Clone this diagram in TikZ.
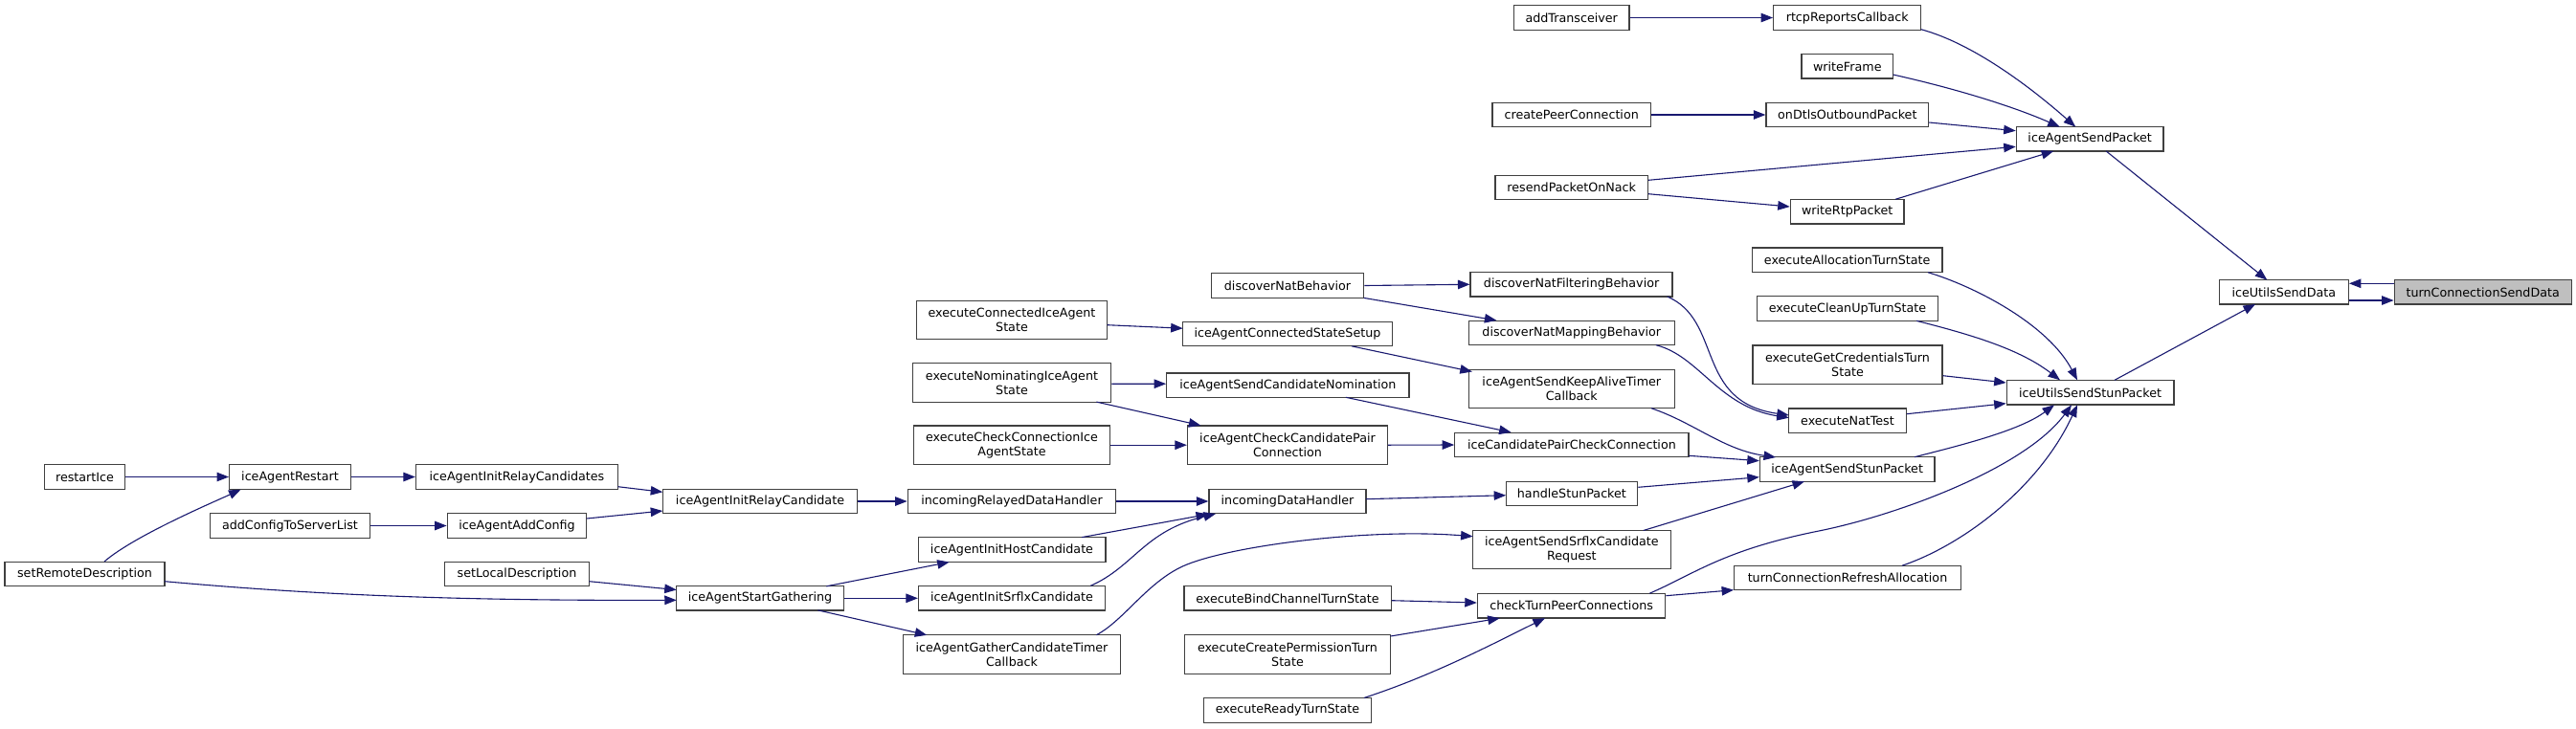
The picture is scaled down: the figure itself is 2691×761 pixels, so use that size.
\documentclass[tikz,border=0pt]{standalone}
\usepackage{fontspec}
\newfontfamily\dvs{DejaVu Sans}
\usetikzlibrary{arrows.meta,calc}
\definecolor{edgeblue}{HTML}{191970}
\definecolor{boxline}{HTML}{404040}
\definecolor{mainfill}{HTML}{BFBFBF}
\tikzset{
  box/.style={draw=boxline, line width=1.3pt, fill=white, inner sep=0pt,
    minimum height=25.5pt, align=center, font=\dvs\fontsize{12.7}{14.7}\selectfont},
  tall/.style={minimum height=40.4pt},
  edge/.style={draw=edgeblue, line width=1.1pt, -{Triangle[length=12.5pt,width=9.5pt]}},
}
\begin{document}
\begin{tikzpicture}[x=1pt,y=-1pt]
\useasboundingbox[fill=white] (0,0) rectangle (2691,761);
% column 1
\node[box,minimum width=83.6pt] (restartIce) at (88.5,498.5) {restartIce};
\node[box,minimum width=167pt] (setRemoteDescription) at (88.5,600) {setRemoteDescription};
% column 2
\node[box,minimum width=126.6pt] (iceAgentRestart) at (303,498.5) {iceAgentRestart};
\node[box,minimum width=166.5pt] (addConfigToServerList) at (303,549.5) {addConfigToServerList};
% column 3
\node[box,minimum width=211pt] (iceAgentInitRelayCandidates) at (540,498.5) {iceAgentInitRelayCandidates};
\node[box,minimum width=145.5pt] (iceAgentAddConfig) at (540,549.5) {iceAgentAddConfig};
\node[box,minimum width=151pt] (setLocalDescription) at (540,600) {setLocalDescription};
% column 4
\node[box,minimum width=203.5pt] (iceAgentInitRelayCandidate) at (794,524) {iceAgentInitRelayCandidate};
\node[box,minimum width=174.5pt] (iceAgentStartGathering) at (794,625.3) {iceAgentStartGathering};
% column 5
\node[box,tall,minimum width=199.3pt] (executeConnectedIceAgentState) at (1057,334.4) {executeConnectedIceAgent\\State};
\node[box,tall,minimum width=207.2pt] (executeNominatingIceAgentState) at (1057,400) {executeNominatingIceAgent\\State};
\node[box,tall,minimum width=205.4pt] (executeCheckConnectionIceAgentState) at (1057,465.2) {executeCheckConnectionIce\\AgentState};
\node[box,minimum width=217.5pt] (incomingRelayedDataHandler) at (1057,524) {incomingRelayedDataHandler};
\node[box,minimum width=195.7pt] (iceAgentInitHostCandidate) at (1057,574.5) {iceAgentInitHostCandidate};
\node[box,minimum width=195pt] (iceAgentInitSrflxCandidate) at (1057,625.3) {iceAgentInitSrflxCandidate};
\node[box,tall,minimum width=226.6pt] (iceAgentGatherCandidateTimerCallback) at (1057,684) {iceAgentGatherCandidateTimer\\Callback};
% column 6
\node[box,minimum width=159.4pt] (discoverNatBehavior) at (1345,298.5) {discoverNatBehavior};
\node[box,minimum width=218.7pt] (iceAgentConnectedStateSetup) at (1345,349) {iceAgentConnectedStateSetup};
\node[box,minimum width=253.3pt] (iceAgentSendCandidateNomination) at (1345.4,402.6) {iceAgentSendCandidateNomination};
\node[box,tall,minimum width=209pt] (iceAgentCheckCandidatePairConnection) at (1345,465.2) {iceAgentCheckCandidatePair\\Connection};
\node[box,minimum width=164pt] (incomingDataHandler) at (1345,524) {incomingDataHandler};
\node[box,minimum width=216.3pt] (executeBindChannelTurnState) at (1345,625.3) {executeBindChannelTurnState};
\node[box,tall,minimum width=215pt] (executeCreatePermissionTurnState) at (1345,684) {executeCreatePermissionTurn\\State};
\node[box,minimum width=174.5pt] (executeReadyTurnState) at (1345,742.4) {executeReadyTurnState};
% column 7
\node[box,minimum width=120.6pt] (addTransceiver) at (1641.7,18.5) {addTransceiver};
\node[box,minimum width=165.4pt] (createPeerConnection) at (1641.7,120) {createPeerConnection};
\node[box,minimum width=159.3pt] (resendPacketOnNack) at (1641.7,196) {resendPacketOnNack};
\node[box,minimum width=211pt] (discoverNatFilteringBehavior) at (1641.6,297.3) {discoverNatFilteringBehavior};
\node[box,minimum width=215pt] (discoverNatMappingBehavior) at (1641.8,347.9) {discoverNatMappingBehavior};
\node[box,tall,minimum width=215pt] (iceAgentSendKeepAliveTimerCallback) at (1641.8,406.5) {iceAgentSendKeepAliveTimer\\Callback};
\node[box,minimum width=244.2pt] (iceCandidatePairCheckConnection) at (1641.9,465) {iceCandidatePairCheckConnection};
\node[box,minimum width=137.5pt] (handleStunPacket) at (1641.9,516) {handleStunPacket};
\node[box,tall,minimum width=206.6pt] (iceAgentSendSrflxCandidateRequest) at (1641.9,574.5) {iceAgentSendSrflxCandidate\\Request};
\node[box,minimum width=196.3pt] (checkTurnPeerConnections) at (1641.6,633.2) {checkTurnPeerConnections};
% column 8
\node[box,minimum width=154pt] (rtcpReportsCallback) at (1929.7,18.5) {rtcpReportsCallback};
\node[box,minimum width=95.7pt] (writeFrame) at (1929.8,69.3) {writeFrame};
\node[box,minimum width=169.6pt] (onDtlsOutboundPacket) at (1929.8,120) {onDtlsOutboundPacket};
\node[box,minimum width=118.6pt] (writeRtpPacket) at (1929.7,221.2) {writeRtpPacket};
\node[box,minimum width=198.7pt] (executeAllocationTurnState) at (1929.7,271.8) {executeAllocationTurnState};
\node[box,minimum width=189.6pt] (executeCleanUpTurnState) at (1930,322.5) {executeCleanUpTurnState};
\node[box,tall,minimum width=198pt] (executeGetCredentialsTurnState) at (1930,381.2) {executeGetCredentialsTurn\\State};
\node[box,minimum width=122.5pt] (executeNatTest) at (1930,439.7) {executeNatTest};
\node[box,minimum width=182.5pt] (iceAgentSendStunPacket) at (1929.7,490.5) {iceAgentSendStunPacket};
\node[box,minimum width=236.5pt] (turnConnectionRefreshAllocation) at (1930,604) {turnConnectionRefreshAllocation};
% columns 9-11
\node[box,minimum width=153.7pt] (iceAgentSendPacket) at (2183.2,145.3) {iceAgentSendPacket};
\node[box,minimum width=174.6pt] (iceUtilsSendStunPacket) at (2183.6,410.3) {iceUtilsSendStunPacket};
\node[box,minimum width=135pt] (iceUtilsSendData) at (2385.8,305.3) {iceUtilsSendData};
\node[box,fill=mainfill,minimum width=185pt] (turnConnectionSendData) at (2593.7,305.3) {turnConnectionSendData};

% edges, left part
\draw[edge] (restartIce.east) -- (iceAgentRestart.west);
\draw[edge] ($(setRemoteDescription)+(20.5,-13)$) .. controls (140,560) and (225,524) .. ($(iceAgentRestart)+(-51.5,13.2)$);
\draw[edge] (iceAgentRestart.east) -- (iceAgentInitRelayCandidates.west);
\draw[edge] ($(iceAgentInitRelayCandidates)+(105.5,10.2)$) -- ($(iceAgentInitRelayCandidate)+(-101.75,-9.7)$);
\draw[edge] (addConfigToServerList.east) -- (iceAgentAddConfig.west);
\draw[edge] ($(iceAgentAddConfig)+(72.75,-7.5)$) -- ($(iceAgentInitRelayCandidate)+(-101.75,10)$);
\draw[edge] ($(setRemoteDescription)+(83.5,7.7)$) .. controls (330,622) and (480,628) .. ($(iceAgentStartGathering)+(-87.25,2)$);
\draw[edge] ($(setLocalDescription)+(75.5,7.7)$) -- ($(iceAgentStartGathering)+(-87.25,-8.8)$);
\draw[edge] (iceAgentInitRelayCandidate.east) -- (incomingRelayedDataHandler.west);
\draw[edge] ($(iceAgentStartGathering)+(69.4,-12.5)$) -- ($(iceAgentInitHostCandidate)+(-65.3,13)$);
\draw[edge] (iceAgentStartGathering.east) -- (iceAgentInitSrflxCandidate.west);
\draw[edge] ($(iceAgentStartGathering)+(60.3,12.5)$) -- ($(iceAgentGatherCandidateTimerCallback)+(-88.7,-20.2)$);
% middle
\draw[edge] (incomingRelayedDataHandler.east) -- (incomingDataHandler.west);
\draw[edge] ($(iceAgentInitHostCandidate)+(73.2,-12.9)$) -- ($(incomingDataHandler)+(-83,13.5)$);
\draw[edge] ($(iceAgentInitSrflxCandidate)+(82.3,-13)$) .. controls (1185,592) and (1195,555) .. ($(incomingDataHandler)+(-75,13)$);
\draw[edge] ($(incomingDataHandler)+(82,-2.3)$) -- ($(handleStunPacket)+(-68.75,1.7)$);
\draw[edge] ($(iceAgentGatherCandidateTimerCallback)+(88.4,-20.3)$) .. controls (1175,648) and (1200,606) .. (1240,590) .. controls (1290,570) and (1430,552) .. ($(iceAgentSendSrflxCandidateRequest)+(-103.3,-13.8)$);
\draw[edge] ($(executeConnectedIceAgentState)+(99.65,5.3)$) -- ($(iceAgentConnectedStateSetup)+(-109.35,-5.8)$);
\draw[edge] ($(executeNominatingIceAgentState.east)+(0,1.2)$) -- ($(iceAgentSendCandidateNomination.west)+(0,-1.4)$);
\draw[edge] ($(executeNominatingIceAgentState)+(88.4,20.1)$) -- ($(iceAgentCheckCandidatePairConnection)+(-90.6,-20.5)$);
\draw[edge] (executeCheckConnectionIceAgentState.east) -- (iceAgentCheckCandidatePairConnection.west);
\draw[edge] (iceAgentCheckCandidatePairConnection.east) -- (iceCandidatePairCheckConnection.west);
\draw[edge] ($(iceAgentSendCandidateNomination)+(60.5,12.7)$) -- ($(iceCandidatePairCheckConnection)+(-63.3,-13.1)$);
\draw[edge] ($(iceAgentConnectedStateSetup)+(67,12.8)$) -- ($(iceAgentSendKeepAliveTimerCallback)+(-104,-18)$);
\draw[edge] (discoverNatBehavior.east) -- (discoverNatFilteringBehavior.west);
\draw[edge] ($(discoverNatBehavior)+(79.7,12.9)$) -- ($(discoverNatMappingBehavior)+(-78.4,-13)$);
\draw[edge] ($(discoverNatFilteringBehavior)+(100.1,12.7)$) .. controls (1800,335) and (1770,420) .. ($(executeNatTest)+(-61.25,-5.7)$);
\draw[edge] ($(discoverNatMappingBehavior)+(88.2,12.8)$) .. controls (1775,372) and (1795,425) .. ($(executeNatTest)+(-61.25,-3)$);
\draw[edge] ($(iceAgentSendKeepAliveTimerCallback)+(83.2,20.2)$) .. controls (1770,442) and (1800,470) .. ($(iceAgentSendStunPacket)+(-74.7,-12.5)$);
\draw[edge] ($(iceCandidatePairCheckConnection)+(122.1,11.3)$) -- ($(iceAgentSendStunPacket.west)+(0,-8.8)$);
\draw[edge] ($(handleStunPacket.east)+(0,-6.7)$) -- ($(iceAgentSendStunPacket.west)+(0,8.2)$);
\draw[edge] ($(iceAgentSendSrflxCandidateRequest)+(74.8,-20)$) -- ($(iceAgentSendStunPacket)+(-44.7,12.8)$);
\draw[edge] ($(executeBindChannelTurnState.east)+(0,2.4)$) -- ($(checkTurnPeerConnections.west)+(0,-3.2)$);
\draw[edge] ($(executeCreatePermissionTurnState)+(107.5,-19)$) -- ($(checkTurnPeerConnections)+(-74.9,13)$);
\draw[edge] ($(executeReadyTurnState)+(80,-13)$) .. controls (1500,705) and (1565,670) .. ($(checkTurnPeerConnections)+(-27.6,13)$);
% right part
\draw[edge] ($(checkTurnPeerConnections.east)+(0,-10.5)$) -- ($(turnConnectionRefreshAllocation.west)+(0,12.7)$);
\draw[edge] ($(checkTurnPeerConnections)+(81.7,-13)$) .. controls (1770,600) and (1800,575) .. (1900,555) .. controls (1980,539) and (2115,490) .. ($(iceUtilsSendStunPacket)+(-19.6,13)$);
\draw[edge] ($(executeAllocationTurnState)+(84.3,12.9)$) .. controls (2065,300) and (2140,340) .. ($(iceUtilsSendStunPacket)+(-13.6,-13)$);
\draw[edge] ($(executeCleanUpTurnState)+(72,12.8)$) .. controls (2060,350) and (2110,365) .. ($(iceUtilsSendStunPacket)+(-31.6,-13)$);
\draw[edge] ($(executeGetCredentialsTurnState.east)+(0,11.5)$) -- ($(iceUtilsSendStunPacket.west)+(0,-10.3)$);
\draw[edge] ($(executeNatTest.east)+(0,-7)$) -- ($(iceUtilsSendStunPacket.west)+(0,11.4)$);
\draw[edge] ($(iceAgentSendStunPacket)+(70.3,-12.8)$) .. controls (2050,465) and (2110,450) .. ($(iceUtilsSendStunPacket)+(-37.6,13)$);
\draw[edge] ($(turnConnectionRefreshAllocation)+(57,-12.8)$) .. controls (2050,570) and (2130,510) .. ($(iceUtilsSendStunPacket)+(-13.6,13)$);
\draw[edge] ($(iceUtilsSendStunPacket)+(25.4,-13)$) -- ($(iceUtilsSendData)+(-29.8,12.7)$);
\draw[edge] ($(iceAgentSendPacket)+(17,12.7)$) -- ($(iceUtilsSendData)+(-17.5,-12.7)$);
\draw[edge] ($(turnConnectionSendData.west)+(0,-9)$) -- ($(iceUtilsSendData.east)+(0,-9)$);
\draw[edge] ($(iceUtilsSendData.east)+(0,8.7)$) -- ($(turnConnectionSendData.west)+(0,8.7)$);
% top
\draw[edge] (addTransceiver.east) -- (rtcpReportsCallback.west);
\draw[edge] ($(rtcpReportsCallback)+(77,12.2)$) .. controls (2060,45) and (2120,90) .. ($(iceAgentSendPacket)+(-15,-12.7)$);
\draw[edge] ($(writeFrame)+(47.85,8.7)$) .. controls (2040,92) and (2100,110) .. ($(iceAgentSendPacket)+(-31.5,-12.7)$);
\draw[edge] (createPeerConnection.east) -- (onDtlsOutboundPacket.west);
\draw[edge] ($(onDtlsOutboundPacket.east)+(0,8)$) -- ($(iceAgentSendPacket.west)+(0,-8.6)$);
\draw[edge] ($(resendPacketOnNack.east)+(0,-7.7)$) -- ($(iceAgentSendPacket.west)+(0,8)$);
\draw[edge] ($(resendPacketOnNack.east)+(0,6.7)$) -- ($(writeRtpPacket.west)+(0,-5.2)$);
\draw[edge] ($(writeRtpPacket)+(50.3,-12.9)$) -- ($(iceAgentSendPacket)+(-38,12.7)$);
\end{tikzpicture}
\end{document}
